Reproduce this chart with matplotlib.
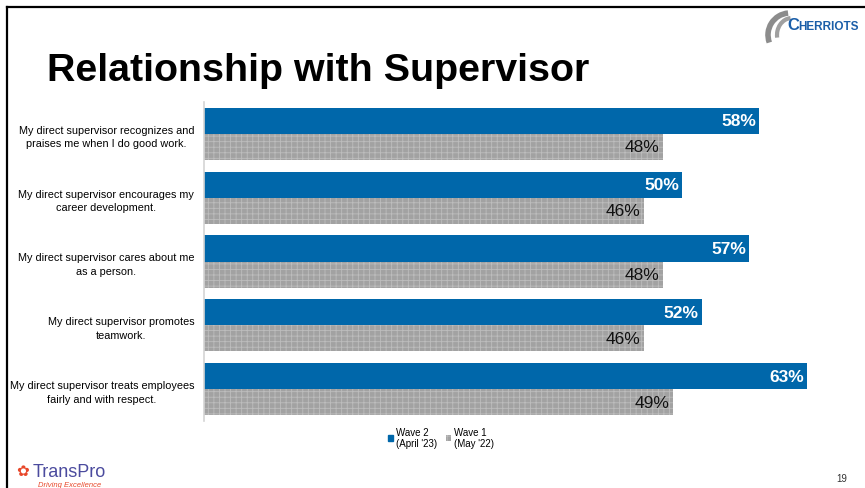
import numpy as np
import matplotlib.pyplot as plt
from matplotlib.patches import Arc, Rectangle
from matplotlib.lines import Line2D

plt.rcParams['font.family'] = ['Liberation Sans', 'DejaVu Sans']
plt.rcParams['hatch.linewidth'] = 0.6

# Survey items and results
questions = [
    "My direct supervisor recognizes and\npraises me when I do good work.",
    "My direct supervisor encourages my\ncareer development.",
    "My direct supervisor cares about me\nas a person.",
    "My direct supervisor promotes\nteamwork.",
    "My direct supervisor treats employees\nfairly and with respect.",
]
wave2 = [58, 50, 57, 52, 63]   # April '23
wave1 = [48, 46, 48, 46, 49]   # May '22
wave_labels = ["Wave 2\n(April '23)", "Wave 1\n(May '22)"]

blue = '#0067aa'
grey = '#a2a2a2'
grey_hatch = '#bdbdbd'

W, H = 865, 489
fig = plt.figure(figsize=(W / 100, H / 100), dpi=100)

# slide frame
fig.add_artist(Line2D([7 / W, 7 / W], [0, 1 - 8 / H], color='black', lw=1.6))
fig.add_artist(Line2D([7 / W, 1], [1 - 8 / H, 1 - 8 / H], color='black', lw=1.6))

fig.text(47 / W, 1 - 81 / H, "Relationship with Supervisor", fontsize=28.4,
         fontweight='bold', ha='left', va='baseline')

# bar chart
ax = fig.add_axes([204 / W, 1 - 422 / H, 622 / W, 319 / H])
y = np.arange(len(questions))
h = 0.41
b2 = ax.barh(y - h / 2, wave2, height=h, color=blue, linewidth=0)
b1 = ax.barh(y + h / 2, wave1, height=h, color=grey, edgecolor=grey_hatch,
             hatch='+++', linewidth=0)

for rect, v in zip(b2, wave2):
    ax.text(v - 0.3, rect.get_y() + rect.get_height() / 2, f"{v}%",
            color='white', fontsize=12.5, fontweight='bold', ha='right', va='center')
for rect, v in zip(b1, wave1):
    ax.text(v - 0.4, rect.get_y() + rect.get_height() / 2, f"{v}%",
            color='#111111', fontsize=12.5, ha='right', va='center')

ax.set_xlim(0, 65)
ax.set_ylim(len(questions) - 0.5, -0.5)
ax.set_xticks([])
ax.set_yticks(y)
ax.set_yticklabels(questions, fontsize=7.8, multialignment='center', linespacing=1.45)
ax.tick_params(axis='y', length=0, pad=7)
for s in ['top', 'right', 'bottom']:
    ax.spines[s].set_visible(False)
ax.spines['left'].set_color('#d4d4d4')
ax.spines['left'].set_linewidth(1.2)

handles = [Rectangle((0, 0), 1, 1, color=blue),
           Rectangle((0, 0), 1, 1, facecolor=grey, edgecolor=grey_hatch, hatch='+++', lw=0)]
fig.legend(handles, wave_labels, loc='upper left', bbox_to_anchor=(384 / W, 1 - 424 / H),
           ncol=2, frameon=False, fontsize=7, handlelength=0.55, handleheight=0.55,
           handletextpad=0.3, columnspacing=0.9, borderaxespad=0)

# Cherriots logo, top right
lax = fig.add_axes([762 / W, 1 - 50 / H, 32 / W, 40 / H])
lax.set_xlim(0, 32)
lax.set_ylim(0, 40)
lax.axis('off')
lax.add_patch(Arc((28, 14), 44, 44, theta1=95, theta2=200, color='#8c8c8c', lw=4))
lax.add_patch(Arc((30, 14), 30, 34, theta1=95, theta2=190, color='#a0a0a0', lw=3))
fig.text(787 / W, 1 - 30 / H, "C", fontsize=12, fontweight='bold', color='#1b5ea8', va='baseline')
fig.text(798 / W, 1 - 30 / H, "HERRIOTS", fontsize=8.5, fontweight='bold', color='#1b5ea8',
         va='baseline')

# TransPro logo, bottom left
fig.text(16 / W, 1 - 476 / H, "\u273f", fontsize=11, color='#e8482b', va='baseline',
         family=['DejaVu Sans'])
fig.text(33 / W, 1 - 477 / H, "TransPro", fontsize=13, color='#4b4b9e', va='baseline')
fig.text(38 / W, 1 - 487 / H, "Driving Excellence", fontsize=5.5, color='#e8482b',
         style='italic', va='baseline')

fig.text(836 / W, 1 - 482 / H, "19", fontsize=7, color='#333333', va='baseline')

fig.savefig('out.png', dpi=100)
